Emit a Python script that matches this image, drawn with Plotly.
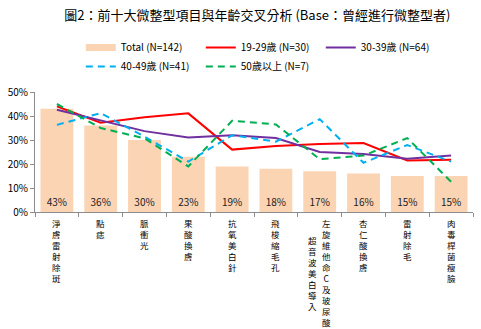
import plotly.graph_objects as go

# 前十大微整型項目（欄內以 \n 分隔，直書時第一行在右）
categories = [
    "淨膚雷射除斑",
    "點痣",
    "脈衝光",
    "果酸換膚",
    "抗氧美白針",
    "飛梭縮毛孔",
    "左旋維他命C及玻尿酸\n超音波美白導入",
    "杏仁酸換膚",
    "雷射除毛",
    "肉毒桿菌瘦臉",
]

# 各族群比例 (%)
total = [43, 36, 30, 23, 19, 18, 17, 16, 15, 15]
age_19_29 = [44.0, 37.2, 39.5, 41.1, 26.0, 27.5, 28.3, 28.7, 21.5, 21.8]
age_30_39 = [42.6, 38.2, 33.7, 31.0, 32.0, 30.8, 25.0, 24.2, 22.2, 23.5]
age_40_49 = [36.3, 41.2, 31.4, 21.0, 32.0, 29.3, 38.7, 20.5, 27.9, 21.0]
age_50_up = [45.0, 35.0, 30.7, 19.0, 38.0, 36.5, 22.0, 23.5, 30.8, 12.6]

series_names = ["Total (N=142)", "19-29歲 (N=30)", "30-39歲 (N=64)",
                "40-49歲 (N=41)", "50歲以上 (N=7)"]
tick_values = [0, 10, 20, 30, 40, 50]
tick_labels = ["0%", "10%", "20%", "30%", "40%", "50%"]

FONT = "Noto Sans CJK TC"
BAR_COLOR = "#FBD4B4"

fig = go.Figure()

fig.add_trace(go.Bar(
    x=categories, y=total,
    marker=dict(color=BAR_COLOR, line=dict(width=0)),
    text=[f"{v}%" for v in total],
    textposition="inside", insidetextanchor="start", textangle=0,
    textfont=dict(family=FONT, size=10, color="#222222"),
    showlegend=False, hoverinfo="skip",
))
# legend swatch for the bar series (wide band)
fig.add_trace(go.Scatter(
    x=[None], y=[None], mode="lines", name=series_names[0],
    line=dict(color=BAR_COLOR, width=7),
))

line_specs = [
    (age_19_29, series_names[1], "#FF0000", "solid"),
    (age_30_39, series_names[2], "#7030A0", "solid"),
    (age_40_49, series_names[3], "#00B0F0", "7px,5px"),
    (age_50_up, series_names[4], "#00B050", "7px,5px"),
]
for vals, name, color, dash in line_specs:
    fig.add_trace(go.Scatter(
        x=categories, y=vals, mode="lines", name=name,
        line=dict(color=color, width=2, dash=dash),
    ))

# vertical (top-to-bottom) category labels: one column of stacked characters
LABEL_SIZE = 8.5
pitch = 1.3 * LABEL_SIZE
col_gap = 14
annotations = []
for cat in categories:
    cols = cat.split("\n")
    longest = max(len(c) for c in cols)
    ncol = len(cols)
    for ci, col in enumerate(cols):
        xshift = ((ncol - 1) / 2 - ci) * col_gap
        start = (longest - len(col)) / 2 * pitch
        annotations.append(dict(
            x=cat, xref="x", y=0, yref="y",
            text="<br>".join(col), showarrow=False,
            xanchor="center", yanchor="top", align="center",
            xshift=xshift, yshift=-(4 + start), borderpad=0,
            font=dict(family=FONT, size=LABEL_SIZE, color="#000000"),
        ))

fig.update_layout(
    width=481, height=329,
    margin=dict(l=33, r=8, t=92, b=117),
    paper_bgcolor="white", plot_bgcolor="white",
    font=dict(family=FONT, size=10, color="#000000"),
    bargap=0.25,
    title=dict(
        text="圖2：前十大微整型項目與年齡交叉分析 (Base：曾經進行微整型者)",
        x=0.535, xref="container", xanchor="center",
        y=1 - 15 / 329, yref="container", yanchor="middle",
        font=dict(family=FONT, size=13, color="#000000"),
    ),
    legend=dict(
        orientation="h",
        x=(79 - 33) / 440, xanchor="left",
        y=1 + (92 - 33) / 120, yanchor="top",
        entrywidth=75, entrywidthmode="pixels",
        font=dict(family=FONT, size=10, color="#000000"),
        bgcolor="rgba(0,0,0,0)",
        itemclick=False,
    ),
    xaxis=dict(
        type="category", range=[-0.5, len(categories) - 0.5],
        showticklabels=False, showgrid=False,
        showline=True, linecolor="#8C8C8C", linewidth=1,
        ticks="outside", tickson="boundaries", ticklen=4,
        tickcolor="#8C8C8C", zeroline=False, fixedrange=True,
    ),
    yaxis=dict(
        range=[0, 50], tickvals=tick_values, ticktext=tick_labels,
        showgrid=False, zeroline=False,
        showline=True, linecolor="#8C8C8C", linewidth=1,
        ticks="outside", ticklen=4, tickcolor="#8C8C8C",
        tickfont=dict(family=FONT, size=10, color="#000000"),
        fixedrange=True,
    ),
    annotations=annotations,
)

fig.write_html("out.html")
